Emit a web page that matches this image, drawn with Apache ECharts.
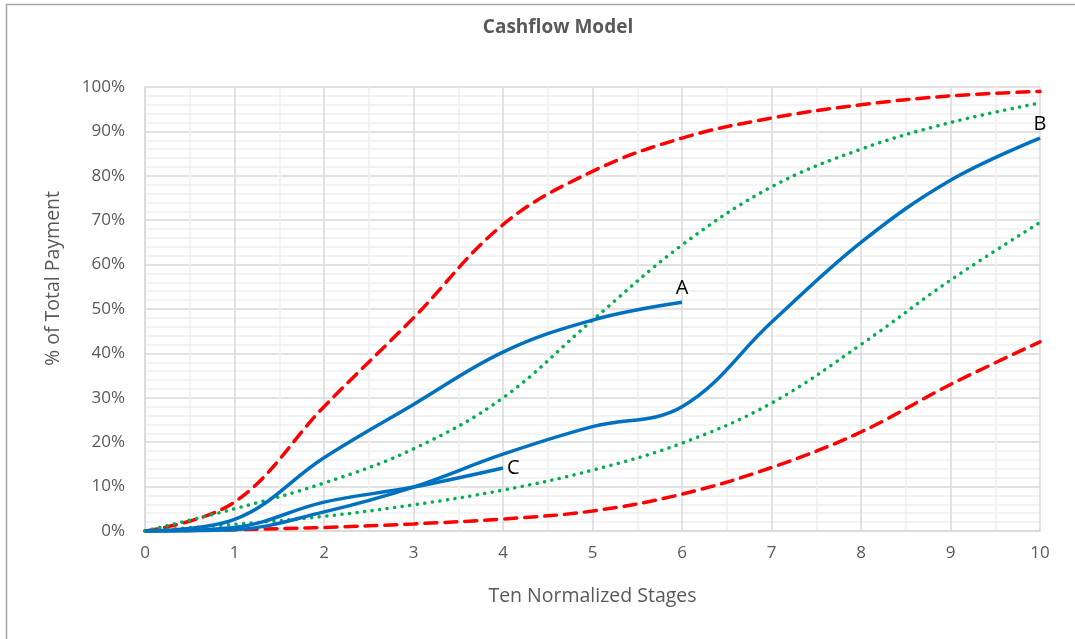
<!DOCTYPE html>
<html>
<head>
<meta charset="utf-8">
<script src="https://cdn.jsdelivr.net/npm/echarts@6/dist/echarts.min.js"></script>
<style>
  html, body { margin: 0; padding: 0; background: #fff; }
  #main { width: 1075px; height: 639px; }
</style>
</head>
<body>
<div id="main"></div>
<script>
// stages along the x axis
var stages = [0, 1, 2, 3, 4, 5, 6, 7, 8, 9, 10];

// envelope curves (% of total payment)
var redUpper = [0, 6.5, 28, 48, 69, 81, 88.5, 93, 96, 98, 99];
var redLower = [0, 0.3, 0.8, 1.6, 2.7, 4.5, 8.3, 14.3, 22.3, 33, 42.6];
var greenUpper = [0, 5, 10.8, 18.5, 30, 47.5, 64.4, 77.5, 86, 92, 96.4];
var greenLower = [0, 1.5, 3.3, 5.9, 9.2, 13.7, 19.8, 28.8, 42, 56.5, 69.5];

// project curves
var curveA = [0, 2.6, 16.5, 28.5, 40.3, 47.5, 51.5];
var curveB = [0, 0.3, 4.3, 9.9, 17.3, 23.5, 28, 47, 65, 79, 88.5];
var curveC = [0, 0.8, 6.5, 9.9, 14.2];

var labelA = 'A', labelB = 'B', labelC = 'C';

function pairs(vals, endLabel, pos) {
    return vals.map(function (v, i) {
        var p = { value: [stages[i], v] };
        if (endLabel && i === vals.length - 1) {
            p.label = {
                show: true, formatter: endLabel, position: pos, distance: 4,
                color: '#000', fontSize: 20, fontFamily: 'Open Sans'
            };
        }
        return p;
    });
}

var myChart = echarts.init(document.getElementById('main'));

var txt = '#595959';
var font = 'Open Sans';
var sm = 0.38;

var red = { color: '#ff0000', width: 3.5, dash: [12, 8] };
var green = { color: '#00b050', width: 3.5, dash: [0.1, 7.5] };
var blue = { color: '#0070c0', width: 3.5 };

function envelope(vals, st) {
    return {
        type: 'line', smooth: sm, symbol: 'none', data: pairs(vals),
        lineStyle: { color: st.color, width: st.width, type: st.dash, cap: 'round' }
    };
}

function project(vals, name, pos) {
    return {
        type: 'line', smooth: sm, symbol: 'circle', symbolSize: 0.1,
        data: pairs(vals, name, pos),
        itemStyle: { color: blue.color },
        lineStyle: { color: blue.color, width: blue.width }
    };
}

myChart.setOption({
    animation: false,
    title: {
        text: 'Cashflow Model',
        left: 553, top: 13,
        textAlign: 'center',
        textStyle: { color: txt, fontSize: 19, fontWeight: 'bold', fontFamily: font }
    },
    graphic: [{
        type: 'rect',
        shape: { x: 6.5, y: 4.5, width: 1100, height: 700 },
        style: { fill: 'none', stroke: '#a6a6a6', lineWidth: 1.5 },
        silent: true
    }, {
        type: 'text',
        left: 43, top: 191,
        rotation: Math.PI / 2,
        style: { text: '% of Total Payment', fill: txt, fontSize: 19.5, fontFamily: font }
    }],
    grid: { left: 145, right: 35, top: 87, bottom: 108 },
    xAxis: {
        type: 'value',
        min: 0, max: 10, interval: 1,
        name: 'Ten Normalized Stages',
        nameLocation: 'middle',
        nameGap: 55,
        nameTextStyle: { color: txt, fontSize: 19.5, fontFamily: font },
        axisLine: { lineStyle: { color: '#d9d9d9', width: 1.5 } },
        axisTick: { show: false },
        axisLabel: { color: txt, fontSize: 17, fontFamily: font, margin: 14 },
        splitLine: { lineStyle: { color: '#d9d9d9', width: 1.5 } },
        minorTick: { show: false, splitNumber: 2 },
        minorSplitLine: { show: true, lineStyle: { color: '#f0f0f0', width: 1.5 } }
    },
    yAxis: {
        type: 'value',
        min: 0, max: 100, interval: 10,
        axisLine: { show: true, lineStyle: { color: '#d9d9d9', width: 1.5 } },
        axisTick: { show: false },
        axisLabel: { color: txt, fontSize: 17, fontFamily: font, margin: 20, formatter: '{value}%' },
        splitLine: { lineStyle: { color: '#d9d9d9', width: 1.5 } },
        minorTick: { show: false, splitNumber: 5 },
        minorSplitLine: { show: true, lineStyle: { color: '#f0f0f0', width: 1.5 } }
    },
    series: [
        envelope(redUpper, red),
        envelope(redLower, red),
        envelope(greenUpper, green),
        envelope(greenLower, green),
        project(curveA, labelA, 'top'),
        project(curveB, labelB, 'top'),
        project(curveC, labelC, 'right')
    ]
});
</script>
</body>
</html>
